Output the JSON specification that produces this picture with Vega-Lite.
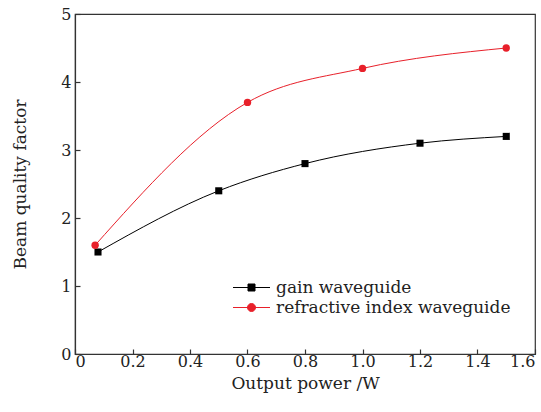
{
  "$schema": "https://vega.github.io/schema/vega-lite/v6.json",
  "width": 460,
  "height": 340,
  "autosize": "none",
  "padding": {"left": 75, "top": 14, "right": 6, "bottom": 58},
  "config": {
    "font": "DejaVu Serif",
    "view": {"stroke": "#333", "strokeWidth": 1.2},
    "axis": {
      "grid": false,
      "domainColor": "#333",
      "domainWidth": 1.2,
      "tickColor": "#333",
      "tickWidth": 1.2,
      "labelColor": "#222",
      "titleColor": "#222",
      "labelFont": "DejaVu Serif",
      "titleFont": "DejaVu Serif",
      "labelFontSize": 16,
      "titleFontSize": 17,
      "titleFontWeight": "normal",
      "tickSize": -5
    }
  },
  "data": {
    "values": [
      {"power": 0.08, "bqf": 1.5, "series": "gain waveguide"},
      {"power": 0.5, "bqf": 2.4, "series": "gain waveguide"},
      {"power": 0.8, "bqf": 2.8, "series": "gain waveguide"},
      {"power": 1.2, "bqf": 3.1, "series": "gain waveguide"},
      {"power": 1.5, "bqf": 3.2, "series": "gain waveguide"},
      {"power": 0.07, "bqf": 1.6, "series": "refractive index waveguide"},
      {"power": 0.6, "bqf": 3.7, "series": "refractive index waveguide"},
      {"power": 1.0, "bqf": 4.2, "series": "refractive index waveguide"},
      {"power": 1.5, "bqf": 4.5, "series": "refractive index waveguide"}
    ]
  },
  "encoding": {
    "x": {
      "field": "power", "type": "quantitative",
      "scale": {"domain": [0, 1.6], "nice": false},
      "axis": {"values": [0, 0.2, 0.4, 0.6, 0.8, 1.0, 1.2, 1.4, 1.6], "labelExpr": "datum.value === 0 ? '0' : format(datum.value, '.1f')", "title": "Output power /W", "labelPadding": 4, "titlePadding": 6}
    },
    "y": {
      "field": "bqf", "type": "quantitative",
      "scale": {"domain": [0, 5], "nice": false},
      "axis": {"values": [0, 1, 2, 3, 4, 5], "title": "Beam quality factor", "labelPadding": 9, "titlePadding": 31}
    },
    "color": {
      "field": "series", "type": "nominal",
      "scale": {"domain": ["gain waveguide", "refractive index waveguide"], "range": ["#000000", "#e8202a"]},
      "legend": {
        "title": null,
        "orient": "none",
        "legendX": 166,
        "legendY": 263,
        "labelFontSize": 17,
        "labelFont": "DejaVu Serif",
        "labelColor": "#222",
        "labelLimit": 400,
        "symbolSize": 400,
        "symbolStrokeWidth": 1,
        "rowPadding": 1,
        "labelOffset": 14,
        "padding": 0,
        "encode": {
          "symbols": {
            "update": {
              "shape": {"signal": "datum.value === 'gain waveguide' ? 'M-1.85,0H1.85M-0.35,-0.35H0.35V0.35H-0.35Z' : 'M-1.85,0H1.85M0.4,0A0.4,0.4 0 1,1 -0.4,0A0.4,0.4 0 1,1 0.4,0Z'"},
              "stroke": {"signal": "datum.value === 'gain waveguide' ? '#000000' : '#e8202a'"},
              "fill": {"signal": "datum.value === 'gain waveguide' ? '#000000' : '#e8202a'"},
              "strokeWidth": {"value": 1},
              "opacity": {"value": 1},
              "fillOpacity": {"value": 1}
            }
          }
        }
      }
    }
  },
  "layer": [
    {
      "mark": {"type": "line", "interpolate": "monotone", "strokeWidth": 1}
    },
    {
      "transform": [{"filter": "datum.series === 'gain waveguide'"}],
      "mark": {"type": "point", "shape": "square", "filled": true, "opacity": 1, "size": 50}
    },
    {
      "transform": [{"filter": "datum.series === 'refractive index waveguide'"}],
      "mark": {"type": "point", "shape": "circle", "filled": true, "opacity": 1, "size": 55}
    }
  ]
}
